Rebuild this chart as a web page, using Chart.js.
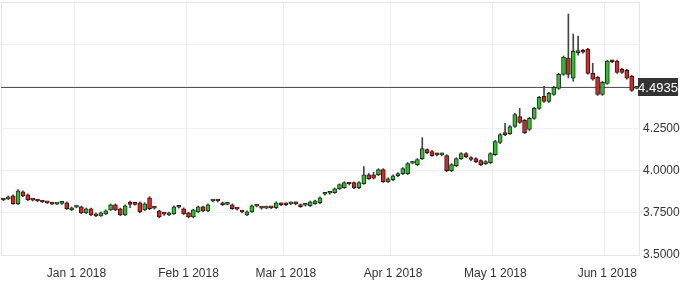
<!DOCTYPE html>
<html>
<head>
<meta charset="utf-8">
<script src="https://cdn.jsdelivr.net/npm/chart.js@4.4.0/dist/chart.umd.min.js"></script>
<style>
  html, body { margin: 0; padding: 0; background: #fff; }
  #wrap { width: 682px; height: 286px; }
</style>
</head>
<body>
<div id="wrap"><canvas id="chart"></canvas></div>
<script>
// trading days (weekdays) 11 Dec 2017 -> 11 Jun 2018
const dates = [];
for (let d = new Date(Date.UTC(2017, 11, 11)); d <= new Date(Date.UTC(2018, 5, 11)); d.setUTCDate(d.getUTCDate() + 1)) {
  const wd = d.getUTCDay();
  if (wd !== 0 && wd !== 6) dates.push(d.toISOString().slice(0, 10));
}

const opens = [
  3.828, 3.833, 3.851, 3.804, 3.875, 3.857, 3.828, 3.823, 3.818, 3.811,
  3.806, 3.802, 3.806, 3.810, 3.768, 3.784, 3.786, 3.750, 3.774, 3.744,
  3.732, 3.744, 3.768, 3.798, 3.774, 3.738, 3.802, 3.806, 3.810, 3.768,
  3.839, 3.781, 3.762, 3.745, 3.738, 3.744, 3.786, 3.774, 3.750, 3.726,
  3.756, 3.786, 3.762, 3.820, 3.822, 3.810, 3.800, 3.798, 3.775, 3.758,
  3.738, 3.756, 3.790, 3.780, 3.778, 3.781, 3.780, 3.804, 3.804, 3.803,
  3.805, 3.798, 3.795, 3.792, 3.804, 3.810, 3.860, 3.866, 3.869, 3.893,
  3.899, 3.925, 3.929, 3.899, 3.923, 3.976, 3.976, 3.976, 4.006, 3.935,
  3.946, 3.970, 3.982, 3.982, 4.045, 4.036, 4.071, 4.125, 4.113, 4.096,
  4.094, 4.089, 4.000, 4.030, 4.071, 4.101, 4.077, 4.071, 4.060, 4.042,
  4.048, 4.095, 4.167, 4.226, 4.220, 4.262, 4.321, 4.298, 4.244, 4.310,
  4.369, 4.440, 4.411, 4.452, 4.488, 4.571, 4.667, 4.548, 4.700, 4.714,
  4.720, 4.577, 4.554, 4.452, 4.518, 4.649, 4.649, 4.601, 4.595, 4.560,
  4.488
];
const highs = [
  3.835, 3.850, 3.857, 3.888, 3.880, 3.862, 3.834, 3.828, 3.822, 3.816,
  3.811, 3.810, 3.818, 3.815, 3.785, 3.792, 3.790, 3.779, 3.778, 3.748,
  3.755, 3.768, 3.803, 3.803, 3.778, 3.797, 3.820, 3.810, 3.815, 3.810,
  3.846, 3.787, 3.766, 3.752, 3.755, 3.792, 3.792, 3.780, 3.754, 3.772,
  3.790, 3.790, 3.803, 3.828, 3.828, 3.815, 3.810, 3.803, 3.780, 3.764,
  3.762, 3.797, 3.800, 3.786, 3.790, 3.787, 3.815, 3.810, 3.810, 3.815,
  3.815, 3.803, 3.803, 3.820, 3.826, 3.845, 3.870, 3.877, 3.898, 3.922,
  3.934, 3.930, 3.934, 3.935, 4.024, 3.985, 3.990, 4.012, 4.012, 3.958,
  3.976, 3.988, 4.018, 4.048, 4.055, 4.072, 4.196, 4.130, 4.120, 4.105,
  4.105, 4.095, 4.042, 4.077, 4.107, 4.107, 4.083, 4.077, 4.065, 4.060,
  4.107, 4.180, 4.220, 4.280, 4.268, 4.340, 4.369, 4.304, 4.316, 4.375,
  4.440, 4.500, 4.464, 4.500, 4.577, 4.680, 4.929, 4.810, 4.798, 4.720,
  4.726, 4.637, 4.560, 4.530, 4.655, 4.655, 4.655, 4.607, 4.601, 4.566,
  4.497
];
const lows = [
  3.822, 3.828, 3.800, 3.800, 3.846, 3.822, 3.820, 3.816, 3.810, 3.805,
  3.798, 3.798, 3.800, 3.770, 3.763, 3.780, 3.745, 3.745, 3.733, 3.727,
  3.728, 3.740, 3.763, 3.763, 3.733, 3.733, 3.780, 3.796, 3.750, 3.763,
  3.768, 3.772, 3.720, 3.735, 3.733, 3.740, 3.778, 3.740, 3.720, 3.720,
  3.752, 3.757, 3.757, 3.815, 3.814, 3.793, 3.796, 3.770, 3.766, 3.750,
  3.733, 3.752, 3.785, 3.772, 3.774, 3.774, 3.775, 3.793, 3.793, 3.798,
  3.797, 3.782, 3.790, 3.787, 3.800, 3.805, 3.855, 3.860, 3.865, 3.888,
  3.895, 3.915, 3.894, 3.894, 3.918, 3.948, 3.950, 3.970, 3.930, 3.930,
  3.940, 3.965, 3.977, 3.977, 4.040, 4.030, 4.066, 4.100, 4.084, 4.088,
  4.088, 3.994, 3.994, 4.024, 4.066, 4.077, 4.060, 4.048, 4.030, 4.036,
  4.042, 4.090, 4.160, 4.208, 4.215, 4.256, 4.280, 4.220, 4.238, 4.304,
  4.363, 4.405, 4.405, 4.446, 4.482, 4.565, 4.550, 4.530, 4.685, 4.696,
  4.572, 4.536, 4.446, 4.446, 4.512, 4.640, 4.577, 4.577, 4.542, 4.470,
  4.485
];
const closes = [
  3.826, 3.845, 3.804, 3.881, 3.851, 3.827, 3.825, 3.820, 3.814, 3.809,
  3.802, 3.805, 3.809, 3.774, 3.780, 3.787, 3.750, 3.774, 3.738, 3.732,
  3.750, 3.762, 3.798, 3.768, 3.738, 3.792, 3.800, 3.800, 3.756, 3.804,
  3.774, 3.778, 3.726, 3.742, 3.750, 3.786, 3.783, 3.744, 3.726, 3.768,
  3.786, 3.762, 3.798, 3.823, 3.820, 3.798, 3.805, 3.774, 3.772, 3.755,
  3.756, 3.792, 3.793, 3.778, 3.781, 3.779, 3.810, 3.798, 3.798, 3.805,
  3.803, 3.787, 3.798, 3.815, 3.821, 3.839, 3.864, 3.870, 3.893, 3.917,
  3.929, 3.921, 3.899, 3.929, 3.976, 3.952, 3.955, 4.006, 3.935, 3.952,
  3.970, 3.982, 4.012, 4.042, 4.048, 4.066, 4.131, 4.107, 4.089, 4.094,
  4.096, 4.000, 4.036, 4.071, 4.101, 4.083, 4.066, 4.054, 4.036, 4.054,
  4.101, 4.173, 4.214, 4.214, 4.262, 4.333, 4.286, 4.226, 4.310, 4.369,
  4.435, 4.411, 4.458, 4.494, 4.571, 4.673, 4.571, 4.708, 4.705, 4.702,
  4.577, 4.542, 4.452, 4.524, 4.649, 4.646, 4.583, 4.583, 4.548, 4.476,
  4.4935
];

const monthTickDates = ['2018-01-01', '2018-02-01', '2018-03-01', '2018-04-02', '2018-05-01', '2018-06-01'];
const monthTickLabels = ['Jan 1 2018', 'Feb 1 2018', 'Mar 1 2018', 'Apr 1 2018', 'May 1 2018', 'Jun 1 2018'];
const yTickLabels = [3.5, 3.75, 4.0, 4.25];

const lastClose = closes[closes.length - 1];
const isUp = closes.map((c, i) => c >= opens[i]);

const font = { family: "'Liberation Sans', Arial, sans-serif", size: 12 };

// no label overhang padding, so the plot fills the canvas edges
const noOverhang = s => {
  s.paddingTop = 0;
  s.paddingBottom = 0;
  s.paddingLeft = 0;
  s.paddingRight = 0;
};

// price line + border round the plot area
const priceLine = {
  id: 'priceLine',
  beforeDatasetsDraw(chart) {
    const { ctx, chartArea: a } = chart;
    ctx.save();
    ctx.strokeStyle = '#e4e4ea';
    ctx.lineWidth = 1;
    ctx.strokeRect(a.left + 0.5, a.top + 0.5, a.right - a.left, a.bottom - a.top);
    const y = Math.round(chart.scales.y.getPixelForValue(lastClose)) + 0.5;
    ctx.strokeStyle = '#555';
    ctx.beginPath();
    ctx.moveTo(a.left, y);
    ctx.lineTo(a.right, y);
    ctx.stroke();
    ctx.restore();
  },
  afterDraw(chart) {
    const { ctx, chartArea: a } = chart;
    const y = Math.round(chart.scales.y.getPixelForValue(lastClose));
    ctx.save();
    ctx.fillStyle = '#333';
    ctx.fillRect(a.right - 1, y - 9, 40, 18);
    ctx.fillStyle = '#fff';
    ctx.font = "13px 'Liberation Sans', Arial, sans-serif";
    ctx.textAlign = 'center';
    ctx.textBaseline = 'middle';
    ctx.fillText(lastClose.toFixed(4), a.right + 19, y + 1);
    ctx.restore();
  }
};

new Chart(document.getElementById('chart'), {
  type: 'bar',
  data: {
    labels: dates,
    datasets: [
      {
        label: 'body',
        data: dates.map((d, i) => [Math.min(opens[i], closes[i]), Math.max(opens[i], closes[i])]),
        backgroundColor: isUp.map(u => u ? '#2cc12c' : '#d42a2a'),
        borderColor: isUp.map(u => u ? '#1f2f1f' : '#3a1414'),
        borderWidth: 1,
        borderSkipped: false,
        barThickness: 4,
        minBarLength: 2,
        grouped: false,
        order: 1
      },
      {
        label: 'wick',
        data: dates.map((d, i) => [lows[i], highs[i]]),
        backgroundColor: '#444',
        borderWidth: 0,
        barThickness: 1,
        grouped: false,
        order: 2
      }
    ]
  },
  options: {
    responsive: true,
    maintainAspectRatio: false,
    animation: false,
    layout: { padding: { left: 1, top: 2, right: 0, bottom: 0 } },
    plugins: { legend: { display: false }, tooltip: { enabled: false } },
    scales: {
      x: {
        type: 'category',
        offset: true,
        border: { display: false },
        grid: {
          offset: true,
          drawTicks: false,
          color: ctx => monthTickDates.includes(dates[ctx.index]) ? '#eeeeee' : 'rgba(0,0,0,0)'
        },
        ticks: {
          autoSkip: false,
          maxRotation: 0,
          padding: 11,
          color: '#333',
          font: font,
          callback: (v, i) => {
            const k = monthTickDates.indexOf(dates[i]);
            return k >= 0 ? monthTickLabels[k] : '';
          }
        },
        afterFit: s => { s.height = 31; noOverhang(s); }
      },
      y: {
        position: 'right',
        min: 3.5,
        max: 5.0,
        border: { display: false },
        grid: { color: '#f1f1f1', drawTicks: false },
        ticks: {
          stepSize: 0.25,
          padding: 4,
          color: '#333',
          font: font,
          callback: v => yTickLabels.some(t => Math.abs(t - v) < 1e-6) ? v.toFixed(4) : ''
        },
        afterFit: s => { s.width = 43; noOverhang(s); }
      }
    }
  },
  plugins: [priceLine]
});
</script>
</body>
</html>
